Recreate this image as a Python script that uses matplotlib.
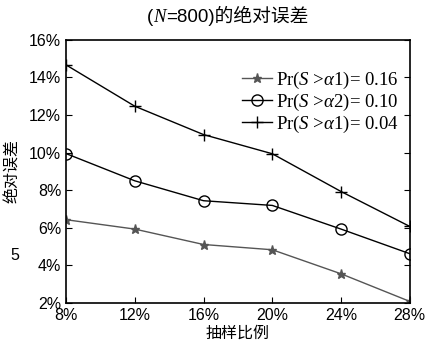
import matplotlib
matplotlib.use("Agg")
import matplotlib.pyplot as plt

plt.rcParams['font.family'] = ['Liberation Sans', 'Noto Sans CJK SC']
plt.rcParams['mathtext.fontset'] = 'custom'
plt.rcParams['mathtext.rm'] = 'Liberation Serif'
plt.rcParams['mathtext.it'] = 'Liberation Serif:italic'

ratio = [8, 12, 16, 20, 24, 28]
err_016 = [6.43, 5.93, 5.11, 4.83, 3.55, 2.08]
err_010 = [9.95, 8.50, 7.44, 7.19, 5.93, 4.62]
err_004 = [14.67, 12.47, 10.96, 9.94, 7.93, 6.07]
xticks = [8, 12, 16, 20, 24, 28]
yticks = [2, 4, 6, 8, 10, 12, 14, 16]

fig = plt.figure(figsize=(4.26, 3.47), dpi=100)
ax = fig.add_axes([0.155, 0.127, 0.807, 0.758])

ax.plot(ratio, err_016, color='#555555', lw=1, marker='*', ms=6.5,
        mfc='#555555', mec='#555555', label='Pr($S$ >$\\alpha$1)= 0.16')
ax.plot(ratio, err_010, color='black', lw=1, marker='o', ms=8,
        mfc='none', mec='black', label='Pr($S$ >$\\alpha$2)= 0.10')
ax.plot(ratio, err_004, color='black', lw=1, marker='+', ms=8,
        mec='black', label='Pr($S$ >$\\alpha$1)= 0.04')

ax.set_xlim(8, 28)
ax.set_ylim(2, 16)
ax.set_xticks(xticks)
ax.set_xticklabels([f'{v}%' for v in xticks], fontsize=11.5)
ax.set_yticks(yticks)
ax.set_yticklabels([f'{v}%' for v in yticks], fontsize=11.5)
ax.tick_params(direction='in', length=4, right=True, width=0.8)
for s in ax.spines.values():
    s.set_linewidth(1.2)

# title in pieces so the CJK part keeps its font
t1 = fig.text(147 / 426, 1 - 17 / 347, '(', fontsize=13.5, ha='left', va='center')
t2 = ax.annotate('N', xy=(1, 0), xycoords=t1, ha='left', va='bottom',
                 fontsize=13.5, family='Liberation Serif', style='italic')
t3 = ax.annotate('=800)的绝对误差', xy=(1, 0), xycoords=t2, ha='left', va='bottom',
                 fontsize=13.5)

ax.set_xlabel('抽样比例', fontsize=11.5, labelpad=2)
ax.set_ylabel('绝对误差', fontsize=11.5, labelpad=6)

leg = ax.legend(loc='upper right', bbox_to_anchor=(1.0, 0.93), frameon=False,
                fontsize=13.5, handlelength=1.6, handletextpad=0.2,
                labelspacing=0.05, borderaxespad=0.2)
for t in leg.get_texts():
    t.set_family('Liberation Serif')

fig.text(0.035, 0.265, '5', fontsize=11.5, ha='center', va='center')

fig.savefig('out.png', dpi=100)
